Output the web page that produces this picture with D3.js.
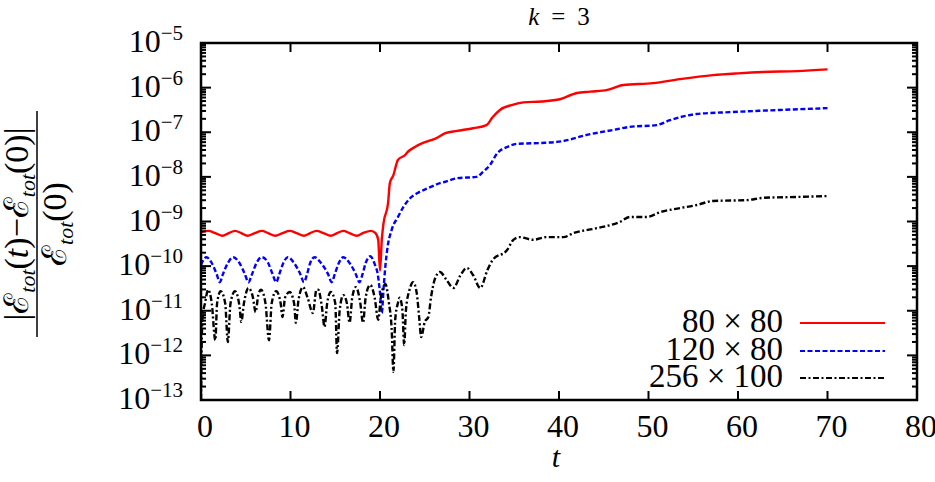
<!DOCTYPE html>
<html>
<head>
<meta charset="utf-8">
<script src="https://cdn.jsdelivr.net/npm/d3@7"></script>
<style>
  body { margin: 0; background: #fff; }
</style>
</head>
<body>
<div id="vis"></div>
<script>
const width = 935;
const height = 482;
const margin = { top: 43, right: 18, bottom: 82, left: 201 };

// series values: [t, log10 of relative energy error]
const red80x80 = [
  [0,-9.24],[0.8,-9.21],[1.6,-9.26],[2.4,-9.32],[3.1,-9.26],[3.8,-9.21],[4.5,-9.26],[5.2,-9.32],
  [6.0,-9.26],[6.8,-9.21],[7.5,-9.26],[8.3,-9.32],[9.1,-9.26],[9.9,-9.21],[10.7,-9.26],[11.5,-9.32],
  [12.2,-9.26],[12.9,-9.21],[13.7,-9.26],[14.5,-9.32],[15.2,-9.26],[15.9,-9.21],[16.6,-9.26],[17.4,-9.32],
  [18.2,-9.25],[19.0,-9.21],[19.5,-9.26],[19.8,-9.41],[20.0,-10.1],[20.2,-9.41],[20.4,-9.03],[20.9,-8.59],
  [21.1,-8.14],[21.5,-7.96],[22.0,-7.62],[22.8,-7.51],[23.1,-7.44],[23.9,-7.33],[24.8,-7.24],[25.8,-7.17],
  [26.3,-7.13],[27.3,-7.02],[28.6,-6.97],[30.4,-6.91],[31.9,-6.84],[32.6,-6.66],[33.4,-6.50],[34.7,-6.39],
  [36.0,-6.33],[38.0,-6.31],[40.1,-6.26],[42.0,-6.12],[43.5,-6.09],[45.4,-6.05],[47.2,-5.94],[50.5,-5.90],
  [53.5,-5.81],[57.2,-5.72],[60.0,-5.68],[62.8,-5.65],[66.6,-5.63],[70.0,-5.59]
];
const blue120x80 = [
  [0,-9.97],[0.6,-9.80],[1.2,-9.93],[1.75,-10.18],[2.1,-10.36],[2.45,-10.18],[3.0,-9.93],[3.6,-9.80],
  [4.3,-9.93],[4.9,-10.18],[5.3,-10.36],[5.7,-10.18],[6.2,-9.93],[6.8,-9.80],[7.5,-9.93],[8.0,-10.18],
  [8.4,-10.36],[8.75,-10.18],[9.2,-9.93],[9.7,-9.80],[10.4,-9.93],[11.1,-10.18],[11.5,-10.36],[11.85,-10.18],
  [12.2,-9.93],[12.7,-9.80],[13.4,-9.93],[14.2,-10.18],[14.6,-10.36],[14.95,-10.18],[15.4,-9.93],[15.9,-9.80],
  [16.6,-9.93],[17.3,-10.18],[17.7,-10.36],[18.05,-10.18],[18.4,-9.93],[18.9,-9.78],[19.4,-9.95],[19.8,-10.25],
  [20.0,-10.6],[20.2,-11.05],[20.4,-10.5],[20.6,-10.0],[20.8,-9.64],[21.3,-9.19],[22.0,-8.90],[22.6,-8.68],
  [23.4,-8.47],[24.2,-8.36],[25.4,-8.25],[26.7,-8.14],[27.3,-8.11],[28.6,-8.03],[30.8,-8.00],[31.5,-7.89],
  [32.3,-7.73],[33.1,-7.47],[34.2,-7.33],[35.3,-7.26],[38.0,-7.24],[40.4,-7.20],[43.1,-7.06],[46.0,-6.95],
  [47.9,-6.88],[50.9,-6.84],[52.4,-6.73],[55.4,-6.59],[59.1,-6.55],[64.7,-6.50],[70.0,-6.46]
];
const black256x100 = [
  [0,-13.0],[0.1,-11.5],[0.2,-11.1],[0.45,-10.83],[0.8,-10.53],[1.2,-10.83],[1.6,-11.66],[1.8,-10.83],
  [2.2,-10.56],[2.7,-10.83],[3.0,-11.70],[3.3,-10.83],[3.8,-10.56],[4.3,-10.9],[4.5,-11.25],[4.8,-10.83],
  [5.3,-10.49],[5.8,-10.7],[6.1,-11.03],[6.4,-10.65],[6.7,-10.53],[7.2,-10.83],[7.6,-11.66],[7.9,-10.83],
  [8.4,-10.56],[8.9,-10.83],[9.1,-11.14],[9.4,-10.7],[9.9,-10.58],[10.4,-10.83],[10.6,-11.27],[10.9,-10.75],
  [11.4,-10.47],[11.9,-10.7],[12.5,-11.05],[12.9,-10.53],[13.1,-10.53],[13.5,-10.9],[13.8,-11.36],[14.1,-10.83],
  [14.5,-10.58],[15.0,-10.83],[15.2,-11.95],[15.5,-10.98],[15.9,-10.65],[16.3,-10.83],[16.6,-11.27],[16.9,-10.7],
  [17.3,-10.47],[17.8,-10.83],[18.1,-11.27],[18.4,-10.7],[18.9,-10.42],[19.4,-10.7],[19.8,-11.2],[20.1,-10.7],
  [20.6,-10.40],[21.0,-10.83],[21.3,-11.4],[21.5,-12.37],[21.7,-11.2],[22.0,-10.83],[22.2,-10.71],[22.5,-10.98],
  [22.7,-11.77],[22.9,-10.98],[23.3,-10.53],[23.7,-10.36],[24.1,-10.6],[24.4,-11.2],[24.6,-11.59],[25.0,-11.25],
  [25.4,-11.14],[25.7,-10.7],[26.1,-10.31],[26.7,-10.13],[27.4,-10.3],[28.2,-10.49],[29.0,-10.2],[29.7,-10.04],
  [30.4,-10.2],[31.2,-10.49],[32.0,-10.09],[32.6,-9.86],[34.2,-9.64],[34.9,-9.41],[35.6,-9.35],[37.1,-9.41],
  [38.6,-9.35],[40.5,-9.35],[41.6,-9.26],[44.2,-9.15],[46.8,-9.01],[47.9,-8.90],[49.8,-8.90],[51.3,-8.79],
  [53.5,-8.70],[55.4,-8.63],[57.2,-8.54],[61.0,-8.52],[62.8,-8.47],[66.6,-8.45],[70.0,-8.43]
];

const seriesNames = ["80 \u00d7 80", "120 \u00d7 80", "256 \u00d7 100"];
const seriesColors = ["#ff0000", "#0000ff", "#000000"];
const seriesDash = [null, "5,2.5", "6,2.5,2,2.5"];
const xTicks = [0, 10, 20, 30, 40, 50, 60, 70, 80];
const yExponents = [-13, -12, -11, -10, -9, -8, -7, -6, -5];

const svg = d3.select("#vis").append("svg")
  .attr("width", width)
  .attr("height", height)
  .attr("font-family", "'Liberation Serif', 'Times New Roman', 'DejaVu Serif', serif");

const x = d3.scaleLinear().domain([0, 80]).range([margin.left, width - margin.right]);
const y = d3.scaleLog().domain([1e-13, 1e-5]).range([height - margin.bottom, margin.top]);

svg.append("clipPath").attr("id", "plot-clip")
  .append("rect")
  .attr("x", margin.left).attr("y", margin.top)
  .attr("width", width - margin.left - margin.right)
  .attr("height", height - margin.top - margin.bottom);

const line = d3.line()
  .x(d => x(d[0]))
  .y(d => y(Math.pow(10, d[1])))
  .curve(d3.curveMonotoneX);

const allSeries = [red80x80, blue120x80, black256x100];
const plot = svg.append("g").attr("clip-path", "url(#plot-clip)");
allSeries.forEach((s, i) => {
  plot.append("path")
    .datum(s)
    .attr("d", line)
    .attr("fill", "none")
    .attr("stroke", seriesColors[i])
    .attr("stroke-width", 2.4)
    .attr("stroke-dasharray", seriesDash[i]);
});

// minor/major ticks on log axis
const yMinor = [];
yExponents.slice(0, -1).forEach(e => {
  for (let m = 2; m <= 9; m++) yMinor.push(m * Math.pow(10, e));
});

const ticks = svg.append("g").attr("stroke", "#000").attr("stroke-width", 2);
const x0 = margin.left, x1 = width - margin.right;
const y0 = height - margin.bottom, y1 = margin.top;

yExponents.forEach(e => {
  const yy = y(Math.pow(10, e));
  ticks.append("line").attr("x1", x0).attr("x2", x0 + 10).attr("y1", yy).attr("y2", yy);
  ticks.append("line").attr("x1", x1).attr("x2", x1 - 10).attr("y1", yy).attr("y2", yy);
});
yMinor.forEach(v => {
  const yy = y(v);
  ticks.append("line").attr("x1", x0).attr("x2", x0 + 5).attr("y1", yy).attr("y2", yy);
  ticks.append("line").attr("x1", x1).attr("x2", x1 - 5).attr("y1", yy).attr("y2", yy);
});
xTicks.forEach(t => {
  const xx = x(t);
  ticks.append("line").attr("x1", xx).attr("x2", xx).attr("y1", y0).attr("y2", y0 - 9);
  ticks.append("line").attr("x1", xx).attr("x2", xx).attr("y1", y1).attr("y2", y1 + 9);
});

// frame
svg.append("rect")
  .attr("x", x0).attr("y", y1)
  .attr("width", x1 - x0).attr("height", y0 - y1)
  .attr("fill", "none").attr("stroke", "#000").attr("stroke-width", 2.5);

// y tick labels 10^n
yExponents.forEach(e => {
  const yy = y(Math.pow(10, e));
  const t = svg.append("text")
    .attr("x", 183).attr("y", yy + 9)
    .attr("text-anchor", "end")
    .attr("font-size", 32);
  t.append("tspan").text("10");
  t.append("tspan").attr("dy", -12).attr("font-size", 21).text("\u2212" + Math.abs(e));
});

// x tick labels
xTicks.forEach(t => {
  svg.append("text")
    .attr("x", x(t) + 4).attr("y", 437)
    .attr("text-anchor", "middle")
    .attr("font-size", 32)
    .text(t);
});

// title
const title = svg.append("text")
  .attr("x", 559).attr("y", 25)
  .attr("text-anchor", "middle")
  .attr("font-size", 25);
title.append("tspan").attr("font-style", "italic").text("k");
title.append("tspan").attr("dx", 12).text("=");
title.append("tspan").attr("dx", 12).text("3");

// x label
svg.append("text")
  .attr("x", 556).attr("y", 467)
  .attr("text-anchor", "middle")
  .attr("font-size", 30)
  .attr("font-style", "italic")
  .text("t");

// y label (fraction, rotated)
const ylab = svg.append("g").attr("transform", "translate(1,224) rotate(-90)");
const num = ylab.append("text")
  .attr("x", 0).attr("y", 27)
  .attr("text-anchor", "middle")
  .attr("font-size", 34);
num.append("tspan").text("|\u2130");
num.append("tspan").attr("dy", 7).attr("font-size", 22).attr("font-style", "italic").text("tot");
num.append("tspan").attr("dy", -7).text("(");
num.append("tspan").attr("font-style", "italic").text("t");
num.append("tspan").text(")\u2212\u2130");
num.append("tspan").attr("dy", 7).attr("font-size", 22).attr("font-style", "italic").text("tot");
num.append("tspan").attr("dy", -7).text("(0)|");
ylab.append("line")
  .attr("x1", -113).attr("x2", 113).attr("y1", 36).attr("y2", 36)
  .attr("stroke", "#000").attr("stroke-width", 1.5);
const den = ylab.append("text")
  .attr("x", 0).attr("y", 65)
  .attr("text-anchor", "middle")
  .attr("font-size", 34);
den.append("tspan").text("\u2130");
den.append("tspan").attr("dy", 7).attr("font-size", 22).attr("font-style", "italic").text("tot");
den.append("tspan").attr("dy", -7).text("(0)");

// legend
const legendY = [323, 351, 378];
seriesNames.forEach((name, i) => {
  svg.append("text")
    .attr("x", 783).attr("y", legendY[i] + 9)
    .attr("text-anchor", "end")
    .attr("font-size", 33)
    .text(name);
  svg.append("line")
    .attr("x1", 800).attr("x2", 885)
    .attr("y1", legendY[i]).attr("y2", legendY[i])
    .attr("stroke", seriesColors[i])
    .attr("stroke-width", 2)
    .attr("stroke-dasharray", seriesDash[i]);
});
</script>
</body>
</html>
